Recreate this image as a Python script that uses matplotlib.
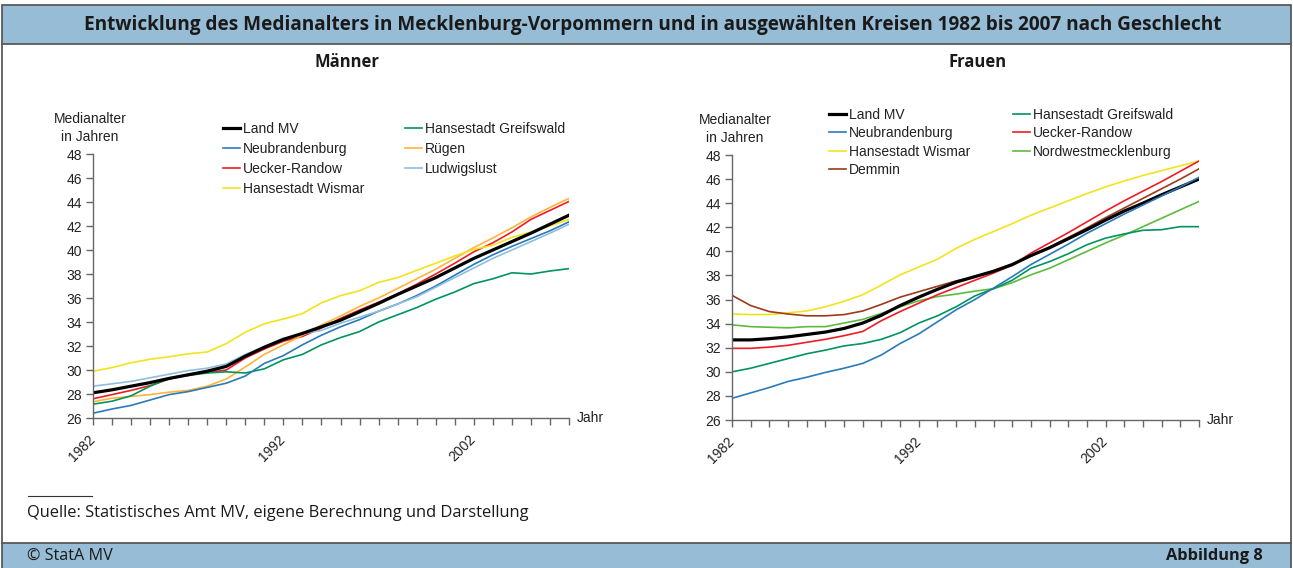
import matplotlib.pyplot as plt
import matplotlib.patches as patches

years = list(range(1982, 2008))

# Männer
m_land_mv = [28.1, 28.35, 28.65, 28.95, 29.3, 29.6, 29.9, 30.3, 31.15, 31.9, 32.55, 33.05, 33.6,
             34.15, 34.85, 35.55, 36.3, 37.0, 37.7, 38.5, 39.3, 40.0, 40.7, 41.4, 42.15, 42.9]
m_greifswald = [27.15, 27.4, 27.85, 28.65, 29.3, 29.55, 29.75, 29.85, 29.75, 30.1, 30.85, 31.3, 32.1,
                32.7, 33.2, 34.0, 34.6, 35.2, 35.9, 36.5, 37.2, 37.6, 38.1, 38.0, 38.25, 38.45]
m_neubrandenburg = [26.4, 26.75, 27.05, 27.5, 27.95, 28.2, 28.55, 28.9, 29.5, 30.55, 31.2, 32.1, 32.9,
                    33.6, 34.2, 34.9, 35.5, 36.2, 37.0, 37.9, 38.8, 39.6, 40.3, 40.95, 41.6, 42.35]
m_ruegen = [27.35, 27.65, 27.8, 27.95, 28.15, 28.3, 28.65, 29.25, 30.25, 31.3, 32.1, 32.9, 33.75,
            34.5, 35.3, 36.0, 36.8, 37.6, 38.4, 39.3, 40.2, 41.0, 41.85, 42.75, 43.55, 44.3]
m_uecker_randow = [27.6, 27.95, 28.3, 28.7, 29.25, 29.6, 29.8, 30.0, 31.0, 31.75, 32.4, 32.8, 33.5,
                   34.3, 35.0, 35.65, 36.35, 37.15, 38.0, 38.9, 39.85, 40.6, 41.5, 42.55, 43.3, 44.05]
m_ludwigslust = [28.65, 28.85, 29.05, 29.35, 29.65, 29.95, 30.15, 30.5, 31.3, 31.95, 32.65, 33.0, 33.3,
                 33.9, 34.4, 34.9, 35.5, 36.1, 36.9, 37.7, 38.5, 39.3, 40.0, 40.7, 41.4, 42.15]
m_wismar = [29.9, 30.2, 30.6, 30.9, 31.1, 31.35, 31.5, 32.2, 33.15, 33.85, 34.25, 34.7, 35.6,
            36.2, 36.6, 37.3, 37.7, 38.3, 38.9, 39.5, 40.05, 40.4, 41.05, 41.5, 42.0, 42.55]

# Frauen
f_land_mv = [32.65, 32.65, 32.75, 32.9, 33.1, 33.3, 33.6, 34.05, 34.7, 35.5, 36.2, 36.85, 37.45,
             37.9, 38.35, 38.9, 39.65, 40.3, 41.05, 41.8, 42.6, 43.35, 44.0, 44.7, 45.35, 46.0]
f_greifswald = [30.0, 30.3, 30.7, 31.1, 31.5, 31.8, 32.15, 32.35, 32.7, 33.25, 34.05, 34.65, 35.4,
                36.3, 36.9, 37.6, 38.6, 39.15, 39.8, 40.55, 41.1, 41.45, 41.75, 41.8, 42.05, 42.05]
f_neubrandenburg = [27.8, 28.25, 28.7, 29.2, 29.55, 29.95, 30.3, 30.7, 31.4, 32.35, 33.15, 34.15, 35.15,
                    36.0, 36.95, 37.9, 38.9, 39.75, 40.6, 41.5, 42.3, 43.1, 43.85, 44.6, 45.35, 46.15]
f_uecker_randow = [31.95, 31.95, 32.05, 32.2, 32.45, 32.7, 33.0, 33.35, 34.25, 35.0, 35.7, 36.4, 37.0,
                   37.6, 38.2, 38.85, 39.85, 40.7, 41.55, 42.45, 43.35, 44.2, 45.0, 45.8, 46.65, 47.5]
f_wismar = [34.8, 34.75, 34.75, 34.9, 35.05, 35.4, 35.85, 36.4, 37.2, 38.05, 38.7, 39.35, 40.25,
            41.0, 41.65, 42.3, 43.0, 43.6, 44.2, 44.8, 45.35, 45.85, 46.3, 46.7, 47.1, 47.5]
f_nwm = [33.9, 33.75, 33.7, 33.65, 33.75, 33.75, 34.05, 34.35, 34.85, 35.4, 35.9, 36.25, 36.45,
         36.7, 36.9, 37.4, 38.05, 38.6, 39.3, 40.0, 40.7, 41.35, 42.05, 42.75, 43.45, 44.15]
f_demmin = [36.35, 35.5, 35.0, 34.8, 34.65, 34.65, 34.75, 35.05, 35.6, 36.2, 36.65, 37.1, 37.55,
            37.9, 38.35, 38.95, 39.6, 40.35, 41.15, 41.95, 42.8, 43.6, 44.4, 45.2, 46.0, 46.85]

c_land = 'black'
c_greif = '#00945e'
c_neubr = '#2a7ab8'
c_ruegen = '#ffb43c'
c_uecker = '#ee1c25'
c_ludw = '#91bde0'
c_wismar = '#f2e41c'
c_nwm = '#5dbb3f'
c_demmin = '#9b3a1c'
band = '#97bcd6'
frame = '#5a5a5a'

plt.rcParams['font.family'] = ['Liberation Sans', 'DejaVu Sans']

fig = plt.figure(figsize=(12.93, 5.68), dpi=100)

# frame, header and footer in pixel coordinates
bg = fig.add_axes([0, 0, 1, 1], zorder=0)
bg.set_xlim(0, 1293)
bg.set_ylim(568, 0)
bg.axis('off')
bg.add_patch(patches.Rectangle((2, 5), 1289, 39, facecolor=band, edgecolor=frame, lw=1.3))
bg.add_patch(patches.Rectangle((2, 543), 1289, 30, facecolor=band, edgecolor=frame, lw=1.3))
bg.plot([2, 2], [44, 543], color=frame, lw=1.3)
bg.plot([1291, 1291], [44, 543], color=frame, lw=1.3)

bg.text(653, 25, 'Entwicklung des Medianalters in Mecklenburg-Vorpommern und in ausgewählten Kreisen 1982 bis 2007 nach Geschlecht',
        ha='center', va='center', fontsize=13.7, fontweight='bold', family='Open Sans', color='#1a1a1a')
bg.text(347, 62, 'Männer', ha='center', va='center', fontsize=12, fontweight='bold', family='Open Sans', color='#1a1a1a')
bg.text(978, 62, 'Frauen', ha='center', va='center', fontsize=12, fontweight='bold', family='Open Sans', color='#1a1a1a')

bg.plot([28, 92], [496, 496], color='#333333', lw=0.8)
bg.text(27, 513, 'Quelle: Statistisches Amt MV, eigene Berechnung und Darstellung', ha='left', va='center',
        fontsize=11.9, family='Open Sans', color='#1a1a1a')
bg.text(27, 556, '© StatA MV', ha='left', va='center', fontsize=11.6, family='Open Sans', color='#1a1a1a')
bg.text(1263, 556, 'Abbildung 8', ha='right', va='center', fontsize=11.8, fontweight='bold', family='Open Sans', color='#1a1a1a')

bg.text(90, 128, 'Medianalter\nin Jahren', ha='center', va='center', fontsize=10, linespacing=1.3, color='#222222')
bg.text(735, 129, 'Medianalter\nin Jahren', ha='center', va='center', fontsize=10, linespacing=1.3, color='#222222')


def setup(ax):
    ax.set_xlim(1982, 2007)
    ax.set_ylim(26, 48)
    ax.set_yticks(range(26, 49, 2))
    ax.set_xticks([1982, 1992, 2002])
    ax.set_xticks(years, minor=True)
    ax.set_xticklabels(['1982', '1992', '2002'], rotation=45, ha='right', va='center', rotation_mode='anchor')
    for s in ['top', 'right']:
        ax.spines[s].set_visible(False)
    for s in ['left', 'bottom']:
        ax.spines[s].set_color('#666666')
        ax.spines[s].set_linewidth(1.0)
    ax.tick_params(which='both', length=5, width=1.0, color='#666666', labelsize=10, labelcolor='#222222')
    ax.tick_params(axis='x', which='major', pad=9)
    ax.tick_params(axis='y', pad=3)
    ax.patch.set_alpha(0)
    ax.text(1.017, 0, 'Jahr', transform=ax.transAxes, ha='left', va='center', fontsize=10, color='#222222')


def legend(handles, x, y, spacing):
    fig.legend(handles=handles, loc='upper left', bbox_to_anchor=(x / 1293, 1 - y / 568), frameon=False,
               borderpad=0, borderaxespad=0, handlelength=1.2, handletextpad=0.25, labelspacing=spacing,
               fontsize=10, labelcolor='#222222')


lw = 1.2

# Männer
ax1 = fig.add_axes([93 / 1293, 1 - 418 / 568, 476 / 1293, 264 / 568], zorder=2)
setup(ax1)
h_ur, = ax1.plot(years, m_uecker_randow, color=c_uecker, lw=lw, label='Uecker-Randow')
h_ru, = ax1.plot(years, m_ruegen, color=c_ruegen, lw=lw, label='Rügen')
h_wi, = ax1.plot(years, m_wismar, color=c_wismar, lw=lw, label='Hansestadt Wismar')
h_gr, = ax1.plot(years, m_greifswald, color=c_greif, lw=lw, label='Hansestadt Greifswald')
h_nb, = ax1.plot(years, m_neubrandenburg, color=c_neubr, lw=lw, label='Neubrandenburg')
h_lu, = ax1.plot(years, m_ludwigslust, color=c_ludw, lw=lw, label='Ludwigslust')
h_mv, = ax1.plot(years, m_land_mv, color=c_land, lw=2.3, label='Land MV')
legend([h_mv, h_nb, h_ur, h_wi], 223, 122, 0.44)
legend([h_gr, h_ru, h_lu], 405, 122, 0.44)

# Frauen
ax2 = fig.add_axes([732 / 1293, 1 - 420 / 568, 467 / 1293, 265 / 568], zorder=2)
setup(ax2)
g_wi, = ax2.plot(years, f_wismar, color=c_wismar, lw=lw, label='Hansestadt Wismar')
g_nw, = ax2.plot(years, f_nwm, color=c_nwm, lw=lw, label='Nordwestmecklenburg')
g_gr, = ax2.plot(years, f_greifswald, color=c_greif, lw=lw, label='Hansestadt Greifswald')
g_ur, = ax2.plot(years, f_uecker_randow, color=c_uecker, lw=lw, label='Uecker-Randow')
g_de, = ax2.plot(years, f_demmin, color=c_demmin, lw=lw, label='Demmin')
g_mv, = ax2.plot(years, f_land_mv, color=c_land, lw=2.3, label='Land MV')
g_nb, = ax2.plot(years, f_neubrandenburg, color=c_neubr, lw=lw, label='Neubrandenburg')
legend([g_mv, g_nb, g_wi, g_de], 829, 108, 0.31)
legend([g_gr, g_ur, g_nw], 1013, 108, 0.31)

fig.savefig('out.png', dpi=100)
